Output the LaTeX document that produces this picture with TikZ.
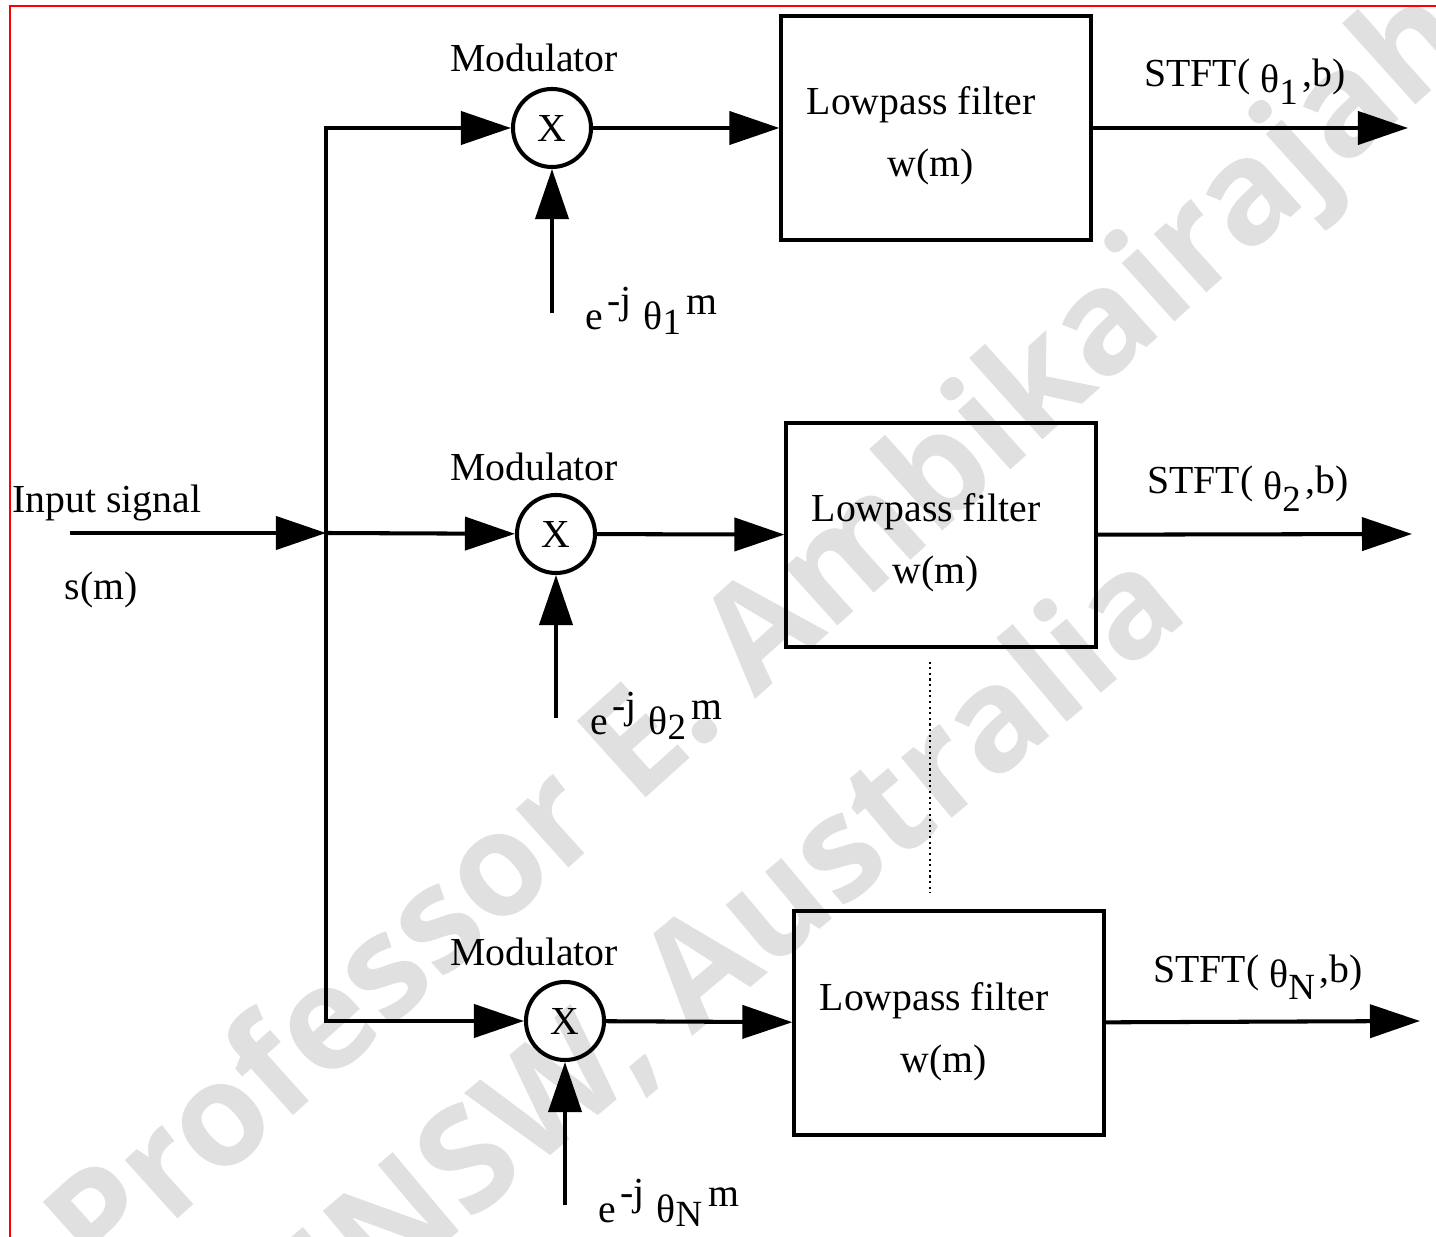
\documentclass[tikz,border=0pt]{standalone}
\usepackage{fontspec}
\setmainfont{Liberation Serif}
\newfontfamily\wmfont{Open Sans}
\usepackage{tikz}
\usetikzlibrary{arrows.meta,positioning,calc}
\definecolor{WMGray}{RGB}{224,224,224}
\definecolor{FrameRed}{RGB}{255,0,0}
\newcommand{\modexp}[1]{e\hspace{0.1em}\raisebox{0.42em}{-j}\hspace{0.3em}θ\raisebox{-0.12em}{\fontsize{10.5}{10}\selectfont #1}\hspace{0.15em}\raisebox{0.4em}{m}}
\newcommand{\stft}[1]{STFT( \raisebox{-0.15em}{θ}\raisebox{-0.45em}{\fontsize{10.5}{10}\selectfont #1}\hspace{0.12em},b)}

\begin{document}
\begin{tikzpicture}[x=0.01cm,y=-0.01cm,
  font=\fontsize{11.3}{13.6}\selectfont,
  lbl/.style={inner sep=0pt},
  wm/.style={text=WMGray,inner sep=0pt,
             font=\wmfont\bfseries\fontsize{41}{41}\selectfont},
  mixer/.style={circle,draw,line width=1.15pt,minimum size=0.78cm,inner sep=0pt},
  filt/.style={draw,line width=1.15pt,minimum width=3.09cm,minimum height=2.23cm},
  sig/.style={-{Triangle[length=0.5cm,width=0.33cm]},line width=1.15pt},
]
\clip (0,0) rectangle (1436,1237);
\node[wm,rotate=42] (wm1) at (765,640) {Professor E. Ambikairajah};
\node[wm,rotate=40] (wm2) at (715,958) {UNSW, Australia};
\draw[FrameRed,line width=0.6pt] (10,1300) -- (10,6) -- (1500,6);

\node[mixer] (mix1) at (552,128) {X};
\node[mixer] (mix2) at (556,534) {X};
\node[mixer] (mix3) at (565,1021) {X};
\node[filt] (filt1) at (936,128) {};
\node[filt] (filt2) at (941,535) {};
\node[filt] (filt3) at (949,1023) {};
\node[lbl,anchor=base] (lp1) at ($(filt1)+(-15,-13)$) {Lowpass filter};
\node[lbl,anchor=base] (lp2) at ($(filt2)+(-15,-13)$) {Lowpass filter};
\node[lbl,anchor=base] (lp3) at ($(filt3)+(-15,-13)$) {Lowpass filter};
\node[lbl,anchor=base] (wt1) at ($(filt1)+(-5,49)$) {w(m)};
\node[lbl,anchor=base] (wt2) at ($(filt2)+(-5,49)$) {w(m)};
\node[lbl,anchor=base] (wt3) at ($(filt3)+(-5,49)$) {w(m)};

\node[lbl] (mod1) at (534,58) {Modulator};
\node[lbl] (mod2) at (534,467) {Modulator};
\node[lbl] (mod3) at (534,952) {Modulator};
\node[lbl,anchor=base] (stft1) at (1245,87) {\stft{1}};
\node[lbl,anchor=base] (stft2) at (1248,494) {\stft{2}};
\node[lbl,anchor=base] (stft3) at (1258,982) {\stft{N}};
\node[lbl,anchor=base west] (exp1) at (585,330) {\modexp{1}};
\node[lbl,anchor=base west] (exp2) at (590,735) {\modexp{2}};
\node[lbl,anchor=base west] (exp3) at (598,1222) {\modexp{N}};
\node[lbl,anchor=base] (inlab) at (107,513) {Input signal};
\node[lbl,anchor=base] (slab) at (101,600) {s(m)};

\coordinate (src) at (70,533);
\coordinate (jn) at (326,533);
\coordinate (ph1) at (552,313);
\coordinate (ph2) at (556,718);
\coordinate (ph3) at (565,1205);
\coordinate (out1) at (1408,128);
\coordinate (out2) at (1412,534);
\coordinate (out3) at (1420,1021);

\draw[sig] (src) -- (jn);
\draw[sig] (jn) |- (mix1);
\draw[sig] (jn) -- (mix2);
\draw[sig] (jn) |- (mix3);
\draw[sig] (ph1) -- (mix1);
\draw[sig] (ph2) -- (mix2);
\draw[sig] (ph3) -- (mix3);
\draw[sig] (mix1) -- (filt1);
\draw[sig] (mix2) -- (filt2);
\draw[sig] (mix3) -- (filt3);
\draw[sig] (filt1) -- (out1);
\draw[sig] (filt2) -- (out2);
\draw[sig] (filt3) -- (out3);
\draw[densely dotted,line width=0.6pt] ($(filt2.south)+(-11,13)$) -- ($(filt3.north)+(-19,-16)$);
\end{tikzpicture}
\end{document}
